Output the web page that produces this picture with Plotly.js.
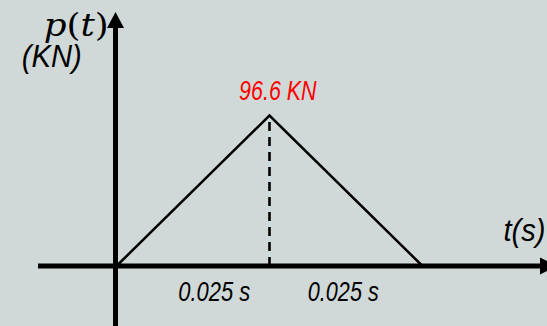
<!DOCTYPE html>
<html>
<head>
<meta charset="utf-8">
<script src="https://cdn.plot.ly/plotly-3.0.1.min.js"></script>
<style>
  html, body { margin: 0; padding: 0; background: #d0d9d7; }
  #chart { width: 547px; height: 326px; }
</style>
</head>
<body>
<div id="chart"></div>
<script>
// Triangular pulse load p(t): rises linearly to the peak, then falls back to zero
const times = [0, 0.025, 0.05];        // s
const loads = [0, 96.6, 0];            // KN
const peakLabel = '96.6 KN';
const durationLabels = ['0.025 s', '0.025 s'];

const peakT = times[1];
const peakP = loads[1];

const W = 547, H = 326;
const bg = '#d0d9d7';
const sans = '"Liberation Sans", Arial, sans-serif';
const serif = '"DejaVu Serif", "Liberation Serif", serif';

// axis ranges: t = 0 sits 116.5px from the left, 0.025 s spans 153px;
// p = 0 sits 266px from the top, 96.6 KN spans 150.5px
const xRange = [-116.5 / 153 * 0.025, (W - 116.5) / 153 * 0.025];
const yRange = [-(H - 266) / 150.5 * 96.6, 266 / 150.5 * 96.6];

// pixel -> data helpers for the drawn axis decorations
const px2t = px => xRange[0] + px / W * (xRange[1] - xRange[0]);
const py2p = py => yRange[1] - py / H * (yRange[1] - yRange[0]);

const traces = [
  {
    x: times,
    y: loads,
    mode: 'lines',
    line: { color: '#000', width: 2.5 },
    hoverinfo: 'skip'
  }
];

const axisColor = '#000';
const shapes = [
  // faint guide under the dashed drop line
  { type: 'line', xref: 'x', yref: 'y', x0: peakT, x1: peakT, y0: 0, y1: peakP,
    line: { color: '#c4e2ee', width: 1.2 }, layer: 'below' },
  // dashed drop line from the peak down to the time axis
  { type: 'line', xref: 'x', yref: 'y', x0: peakT, x1: peakT, y0: 0, y1: peakP,
    line: { color: '#000', width: 2.6, dash: '9px,6px' }, layer: 'below' },
  // time axis shaft
  { type: 'line', xref: 'x', yref: 'y', x0: px2t(38), x1: px2t(541), y0: 0, y1: 0,
    line: { color: axisColor, width: 5 } },
  // time axis arrowhead
  { type: 'path', xref: 'x', yref: 'y',
    path: `M${px2t(540)},${py2p(257.5)} L${px2t(557)},${py2p(266)} L${px2t(540)},${py2p(274.5)} Z`,
    fillcolor: axisColor, line: { width: 0 } },
  // load axis shaft
  { type: 'line', xref: 'x', yref: 'y', x0: px2t(115.5), x1: px2t(115.5), y0: py2p(330), y1: py2p(26),
    line: { color: axisColor, width: 5 } },
  // load axis arrowhead
  { type: 'path', xref: 'x', yref: 'y',
    path: `M${px2t(107)},${py2p(28)} L${px2t(115.5)},${py2p(12)} L${px2t(124)},${py2p(28)} Z`,
    fillcolor: axisColor, line: { width: 0 } }
];

// text labels: (cx, cy) is the pixel centre, tw the drawn width
const labels = [
  { text: '<i>p</i>(<i>t</i>)', cx: 76, cy: 25, tw: 65, font: { family: serif, size: 32, color: '#000' } },
  { text: '<i>(KN)</i>', cx: 52, cy: 56, tw: 60, font: { family: sans, size: 31, color: '#000' } },
  { text: '<i>t(s)</i>', cx: 524, cy: 230, tw: 42, font: { family: sans, size: 31, color: '#000' } },
  { text: '<i>' + peakLabel + '</i>', cx: 278, cy: 91, tw: 78, font: { family: sans, size: 27, color: '#ff0000' } },
  { text: '<i>' + durationLabels[0] + '</i>', cx: 214, cy: 292, tw: 72, font: { family: sans, size: 27, color: '#000' } },
  { text: '<i>' + durationLabels[1] + '</i>', cx: 343, cy: 292, tw: 71, font: { family: sans, size: 27, color: '#000' } }
];

const annotations = labels.map(l => ({
  x: l.cx / W, y: 1 - l.cy / H, xref: 'paper', yref: 'paper',
  xanchor: 'center', yanchor: 'middle',
  text: l.text, showarrow: false, font: l.font
}));

const layout = {
  width: W,
  height: H,
  margin: { l: 0, r: 0, t: 0, b: 0 },
  paper_bgcolor: bg,
  plot_bgcolor: bg,
  showlegend: false,
  xaxis: { range: xRange, visible: false, fixedrange: true },
  yaxis: { range: yRange, visible: false, fixedrange: true },
  shapes: shapes,
  annotations: annotations
};

Plotly.newPlot('chart', traces, layout, { displayModeBar: false, staticPlot: true }).then(gd => {
  // the labels are set in a narrow face: squeeze each one to its width
  gd.querySelectorAll('.annotation').forEach(g => {
    const i = +g.getAttribute('data-index');
    const t = g.querySelector('text.annotation-text');
    if (!t || !labels[i]) return;
    const w = t.getBBox().width;
    if (!w) return;
    const s = labels[i].tw / w;
    t.style.transformBox = 'fill-box';
    t.style.transformOrigin = 'center';
    t.style.transform = `scaleX(${s.toFixed(3)})`;
  });
});
</script>
</body>
</html>
